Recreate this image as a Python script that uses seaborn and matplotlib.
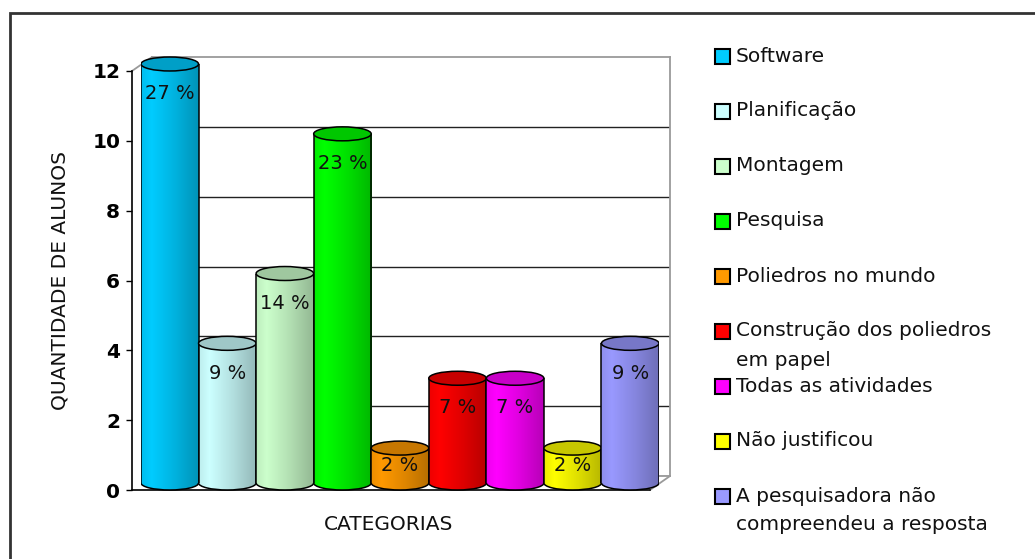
import numpy as np
import pandas as pd
import matplotlib
matplotlib.use("Agg")
import matplotlib.pyplot as plt
import seaborn as sns
from matplotlib.patches import Ellipse, Arc, Rectangle
from matplotlib.lines import Line2D
from matplotlib.colors import to_rgb

# ---- data -------------------------------------------------------------
categorias = [
    "Software",
    "Planificação",
    "Montagem",
    "Pesquisa",
    "Poliedros no mundo",
    "Construção dos poliedros\nem papel",
    "Todas as atividades",
    "Não justificou",
    "A pesquisadora não\ncompreendeu a resposta",
]
alunos = [12, 4, 6, 10, 1, 3, 3, 1, 4]
cores = ["#00CCFF", "#CCFFFF", "#CCFFCC", "#00FF00", "#FF9900",
         "#FF0000", "#FF00FF", "#FFFF00", "#9999FF"]
yticks = [0, 2, 4, 6, 8, 10, 12]
ylabel = "QUANTIDADE DE ALUNOS"
xlabel = "CATEGORIAS"

sns.set_theme(style="white")
plt.rcParams["font.family"] = ["DejaVu Sans"]

W, H = 1035, 559
fig = plt.figure(figsize=(W / 100, H / 100), dpi=100)
fig.patch.set_facecolor("white")


def box(left, top, right, bottom):
    """Pixel box (from top-left) -> figure fraction rectangle."""
    return [left / W, 1 - bottom / H, (right - left) / W, (bottom - top) / H]


# 3-D frame: front plane, back wall, and the mid plane holding the cylinders
DX, DY = 20, 14
FL, FT, FR, FB = 132, 71, 650, 490
unit = (FB - FT) / 12.0

ax_back = fig.add_axes(box(FL + DX, FT - DY, FR + DX, FB - DY))
ax_front = fig.add_axes(box(FL, FT, FR, FB))
mt, mb = FT - DY / 2, FB - DY / 2
ax_bars = fig.add_axes(box(FL + DX / 2 - 1, mt - 0.5 * unit, FR + DX / 2 - 1, mb + 0.5 * unit))

# back wall with horizontal grid
ax_back.set_facecolor("white")
ax_back.set_ylim(0, 12)
ax_back.set_xlim(0, 1)
ax_back.set_yticks(yticks[:-1])
ax_back.set_xticks([])
ax_back.tick_params(axis="y", length=0, labelleft=False)
ax_back.grid(axis="y", color="#222222", lw=1.0)
for s in ["top", "right", "left", "bottom"]:
    ax_back.spines[s].set_color("#9a9a9a")
    ax_back.spines[s].set_linewidth(1.3)

# front plane: value axis and floor edge
ax_front.patch.set_alpha(0)
ax_front.set_ylim(0, 12)
ax_front.set_xlim(0, 1)
ax_front.set_yticks(yticks)
ax_front.set_yticklabels([str(v) for v in yticks], fontsize=14.5, fontweight="bold")
ax_front.set_xticks([])
ax_front.tick_params(axis="y", direction="out", length=4, width=1, pad=4.5,
                     left=True, colors="black")
for s in ["top", "right"]:
    ax_front.spines[s].set_visible(False)
for s in ["left", "bottom"]:
    ax_front.spines[s].set_color("black")
    ax_front.spines[s].set_linewidth(1.2)
ax_front.set_ylabel(ylabel, fontsize=14.5, color="#111111")
ax_front.yaxis.set_label_coords((60 - FL) / (FR - FL), (FB - 281) / (FB - FT))
ax_front.yaxis.label.set_va("center")
ax_front.text(0.495, (FB - 525) / (FB - FT), xlabel, transform=ax_front.transAxes,
              ha="center", va="center", fontsize=14.5, color="#111111")

# edges joining the front plane to the back wall
fb, bb = ax_front.get_position(), ax_back.get_position()
for xs, ys in [([fb.x0, bb.x0], [fb.y1, bb.y1]), ([fb.x1, bb.x1], [fb.y0, bb.y0])]:
    fig.add_artist(Line2D(xs, ys, transform=fig.transFigure, color="#9a9a9a",
                          lw=1.3, zorder=-1))

# ---- cylinders ----------------------------------------------------------
df = pd.DataFrame({"categoria": categorias, "alunos": alunos})
sns.barplot(data=df, x="categoria", y="alunos", hue="categoria", palette=cores,
            width=1.0, saturation=1, legend=False, ax=ax_bars)

total = sum(alunos)
eh = 0.4  # ellipse height in data units
t = np.linspace(0, 1, 96)
shade = np.interp(t, [0, 0.18, 0.6, 1.0], [0.93, 1.0, 0.87, 0.72])

patches = sorted(ax_bars.patches, key=lambda p: p.get_x())
for i, (p, v, c) in enumerate(zip(patches, alunos, cores)):
    z = 3 + i
    x0, w, h = p.get_x(), p.get_width(), p.get_height()
    cx = x0 + w / 2
    rgb = np.array(to_rgb(c))
    grad = np.clip(rgb[None, :] * shade[:, None], 0, 1)[None, :, :]

    p.set_facecolor("none")
    p.set_linewidth(0)
    p.set_zorder(z)
    body = ax_bars.imshow(grad, extent=(x0, x0 + w, 0, h), aspect="auto",
                          interpolation="bilinear", zorder=z)
    body.set_clip_path(p)

    base = Ellipse((cx, 0), w, eh, facecolor="none", linewidth=0, zorder=z)
    ax_bars.add_patch(base)
    bottom = ax_bars.imshow(grad, extent=(x0, x0 + w, -eh / 2, eh / 2), aspect="auto",
                            interpolation="bilinear", zorder=z - 0.1)
    bottom.set_clip_path(base)

    ax_bars.add_patch(Arc((cx, 0), w, eh, theta1=180, theta2=360,
                          color="black", lw=1.1, zorder=z + 0.2))
    ax_bars.plot([x0, x0], [0, h], color="black", lw=1.1, zorder=z + 0.2,
                 solid_capstyle="butt")
    ax_bars.plot([x0 + w, x0 + w], [0, h], color="black", lw=1.1, zorder=z + 0.2,
                 solid_capstyle="butt")
    ax_bars.add_patch(Ellipse((cx, h), w, eh, facecolor=np.clip(rgb * 0.78, 0, 1),
                              edgecolor="black", lw=1.1, zorder=z + 0.3))

    pct = round(v / total * 100)
    ax_bars.text(cx, max(h - 0.85, h / 2), f"{pct} %", ha="center", va="center",
                 fontsize=14, color="#111111", zorder=z + 0.5)

ax_bars.set_xlim(-0.5, len(alunos) - 0.5)
ax_bars.set_ylim(-0.5, 12.5)
ax_bars.axis("off")

# ---- legend ---------------------------------------------------------------
for i, (lab, c) in enumerate(zip(categorias, cores)):
    yc = 56 + 55 * i
    fig.add_artist(Rectangle((715 / W, 1 - (yc + 7.5) / H), 15 / W, 15 / H,
                             transform=fig.transFigure, facecolor=c,
                             edgecolor="black", lw=1.5))
    for j, line in enumerate(lab.split("\n")):
        fig.text(736 / W, 1 - (yc + 29 * j) / H, line, ha="left", va="center",
                 fontsize=14.5, color="#111111")

# outer frame
fig.add_artist(Rectangle((10 / W, -0.1), 1.2, 1 - 13 / H + 0.1,
                         transform=fig.transFigure, fill=False,
                         edgecolor="#333333", lw=2))

fig.savefig("out.png", dpi=100)
